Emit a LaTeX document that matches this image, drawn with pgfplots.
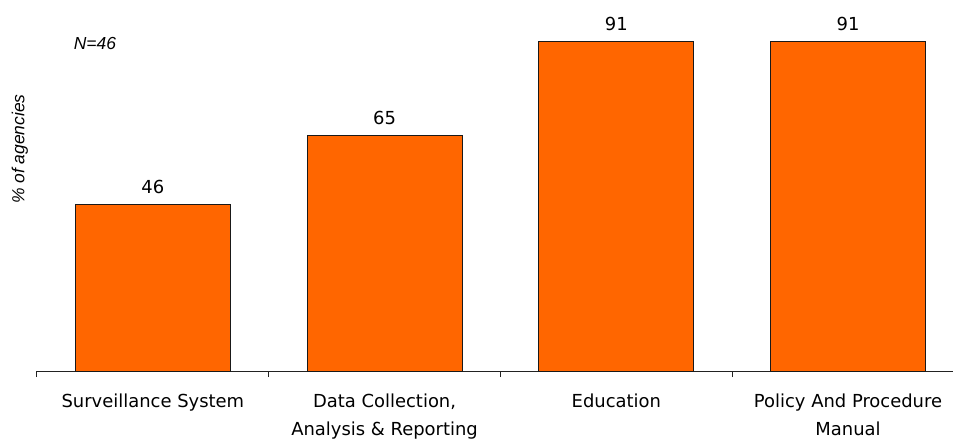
\documentclass[border=0pt]{standalone}
\usepackage{pgfplots}
\pgfplotsset{compat=1.18}
\usepackage{fontspec}
\setmainfont{DejaVu Sans}
\newfontfamily\notefont{Liberation Sans}
\definecolor{barorange}{HTML}{FF6600}
\definecolor{axisgray}{HTML}{222222}

\begin{document}
\begin{tikzpicture}
\begin{axis}[
    name=ax,
    scale only axis,
    width=916bp, height=362bp,
    xmin=-0.5, xmax=3.453,
    ymin=0, ymax=100,
    /pgf/number format/assume math mode=true,
    axis x line*=bottom,
    axis y line=none,
    x axis line style={axisgray, line width=1bp},
    xtick={0,1,2,3},
    xticklabels={Surveillance System,
                 {Data Collection,\\Analysis \& Reporting},
                 Education,
                 {Policy And Procedure\\Manual}},
    major tick length=0pt,
    extra x ticks={-0.5,0.5,1.5,2.5},
    extra x tick labels={},
    extra x tick style={major tick length=6bp, tick align=outside,
        tick style={axisgray, line width=1bp}},
    xticklabel style={font=\fontsize{18}{28}\selectfont, align=center,
        inner sep=0pt, anchor=north, yshift=-23bp, text=black},
    ytick=\empty,
    ybar,
    bar width=0.669,
    nodes near coords={\pgfmathprintnumber[assume math mode=true]{\pgfplotspointmeta}},
    nodes near coords style={font=\fontsize{18}{22}\selectfont, anchor=base,
        inner sep=0pt, yshift=11bp, text=black},
    clip=false,
]
\addplot[fill=barorange, draw=black!90, line width=1bp]
    coordinates {(0,46) (1,65) (2,91) (3,91)};
\node[font=\notefont\itshape\fontsize{17.5}{20}\selectfont, rotate=90,
      text=black]
    at (axis description cs:-0.0186,0.613) {\% of agencies};
\node[font=\notefont\itshape\fontsize{17.5}{20}\selectfont, text=black]
    at (axis description cs:0.0633,0.906) {N=46};
\end{axis}
\pgfresetboundingbox
\useasboundingbox (-37bp,-70bp) rectangle (916bp,371bp);
\end{tikzpicture}
\end{document}
